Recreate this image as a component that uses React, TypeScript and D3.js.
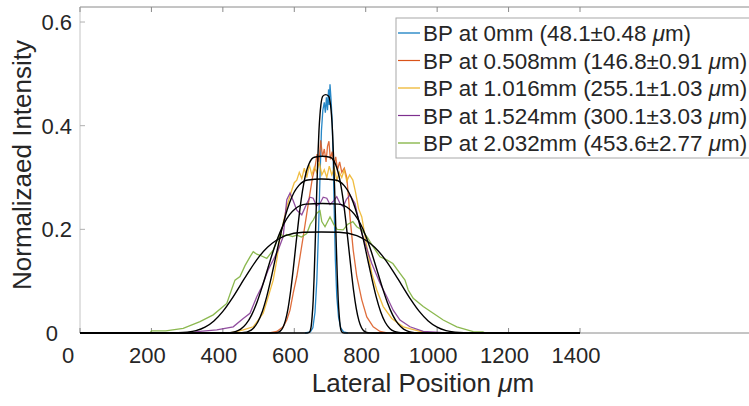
import React from "react";
import * as d3 from "d3";

type Pt = [number, number];

const xTicks = [0, 200, 400, 600, 800, 1000, 1200, 1400];
const yTicks = [0, 0.2, 0.4, 0.6];

const seriesNames = ["0mm", "0.508mm", "1.016mm", "1.524mm", "2.032mm"];
const seriesWidths = ["48.1±0.48 ", "146.8±0.91 ", "255.1±1.03 ", "300.1±3.03 ", "453.6±2.77 "];
const seriesColors = ["#0072BD", "#D95319", "#EDB120", "#7E2F8E", "#77AC30"];

const dataBlue: Pt[] = [
  [630, 0], [645, 0.002], [652, 0.01], [658, 0.04], [663, 0.1], [668, 0.2], [672, 0.3], [676, 0.39],
  [680, 0.43], [684, 0.445], [687, 0.425], [690, 0.455], [693, 0.43], [696, 0.47], [698, 0.44],
  [700, 0.48], [703, 0.45], [706, 0.41], [709, 0.33], [712, 0.23], [715, 0.14], [719, 0.07],
  [724, 0.03], [730, 0.01], [738, 0.002], [750, 0],
];
const dataOrange: Pt[] = [
  [530, 0], [551, 0.003], [569, 0.012], [579, 0.025], [588, 0.044], [597, 0.077], [607, 0.109],
  [616, 0.147], [625, 0.186], [635, 0.231], [644, 0.27], [651, 0.3], [658, 0.32], [664, 0.345],
  [669, 0.33], [674, 0.372], [679, 0.34], [684, 0.355], [689, 0.33], [693, 0.36], [697, 0.37],
  [701, 0.335], [706, 0.35], [711, 0.325], [716, 0.34], [721, 0.315], [727, 0.33], [733, 0.31],
  [740, 0.318], [747, 0.3], [752, 0.26], [756, 0.224], [765, 0.16], [775, 0.109], [789, 0.064],
  [803, 0.031], [821, 0.012], [840, 0.003], [860, 0],
];
const dataYellow: Pt[] = [
  [420, 0], [440, 0.003], [457, 0.006], [485, 0.012], [513, 0.038], [527, 0.07], [541, 0.102],
  [551, 0.141], [560, 0.186], [569, 0.212], [579, 0.244], [593, 0.276], [600, 0.29], [607, 0.295],
  [614, 0.31], [621, 0.298], [628, 0.318], [635, 0.3], [642, 0.325], [649, 0.305], [656, 0.32],
  [663, 0.31], [670, 0.33], [677, 0.305], [684, 0.315], [691, 0.3], [698, 0.322], [705, 0.305],
  [712, 0.318], [719, 0.295], [726, 0.31], [733, 0.3], [740, 0.315], [747, 0.293], [755, 0.305],
  [764, 0.295], [772, 0.27], [780, 0.24], [789, 0.224], [803, 0.167], [817, 0.115], [831, 0.083],
  [849, 0.051], [873, 0.028], [905, 0.012], [952, 0.003], [980, 0],
];
const dataPurple: Pt[] = [
  [300, 0], [336, 0.003], [383, 0.006], [429, 0.012], [457, 0.028], [476, 0.038], [495, 0.07],
  [509, 0.089], [527, 0.122], [541, 0.141], [555, 0.16], [569, 0.186], [575, 0.23], [579, 0.257],
  [588, 0.27], [597, 0.255], [607, 0.237], [621, 0.228], [635, 0.25], [644, 0.262], [653, 0.26],
  [662, 0.245], [672, 0.25], [681, 0.262], [691, 0.26], [700, 0.248], [710, 0.255], [719, 0.263],
  [728, 0.25], [737, 0.244], [746, 0.258], [756, 0.266], [770, 0.25], [784, 0.205], [798, 0.173],
  [817, 0.134], [840, 0.096], [859, 0.07], [877, 0.044], [896, 0.025], [924, 0.012], [961, 0.003],
  [1008, 0.001], [1020, 0],
];
const dataGreen: Pt[] = [
  [196, 0], [200, 0.004], [240, 0.004], [289, 0.009], [336, 0.022], [373, 0.035], [411, 0.057],
  [425, 0.085], [434, 0.102], [448, 0.109], [462, 0.13], [476, 0.147], [485, 0.157], [495, 0.152],
  [504, 0.15], [523, 0.144], [541, 0.16], [560, 0.192], [570, 0.186], [579, 0.19], [595, 0.186],
  [607, 0.189], [620, 0.185], [635, 0.192], [645, 0.21], [653, 0.218], [663, 0.231], [672, 0.236],
  [677, 0.215], [686, 0.205], [700, 0.224], [710, 0.21], [720, 0.2], [737, 0.199], [750, 0.21],
  [764, 0.215], [775, 0.205], [789, 0.199], [806, 0.183], [820, 0.167], [840, 0.147], [859, 0.141],
  [876, 0.134], [896, 0.115], [910, 0.102], [919, 0.083], [933, 0.067], [961, 0.051], [989, 0.038],
  [1017, 0.025], [1055, 0.012], [1101, 0.0025], [1128, 0.002], [1135, 0],
];

const fitBlue: Pt[] = [
  [0, 0], [634, 0], [639, 0.0003], [642, 0.0014], [645, 0.0049], [647.5, 0.0138], [650, 0.032],
  [653, 0.064], [655.6, 0.109], [658.3, 0.167], [661, 0.23], [663.7, 0.292], [666.4, 0.346],
  [669.1, 0.39], [671.8, 0.42], [674.5, 0.44], [680, 0.457], [688, 0.46], [696, 0.457],
  [701.5, 0.44], [704.2, 0.42], [706.9, 0.39], [709.6, 0.346], [712.3, 0.292], [715, 0.23],
  [717.7, 0.167], [720.4, 0.109], [723, 0.064], [726, 0.032], [728.5, 0.0138], [731, 0.0049],
  [734, 0.0014], [737, 0.0003], [742, 0], [1400, 0],
];
const fitOrange: Pt[] = [
  [0, 0], [531, 0], [545.7, 0.0002], [553, 0.001], [560.4, 0.0036], [567.8, 0.0102], [575.1, 0.0238],
  [582.5, 0.0471], [589.8, 0.081], [597.2, 0.1236], [604.5, 0.1705], [611.9, 0.2164], [619.2, 0.2567],
  [626.6, 0.2887], [633.9, 0.3117], [641.3, 0.3265], [656, 0.3391], [678, 0.341], [700, 0.3391],
  [714.8, 0.3265], [722.1, 0.3117], [729.5, 0.2887], [736.8, 0.2567], [744.2, 0.2164], [751.5, 0.1705],
  [758.9, 0.1236], [766.2, 0.081], [773.6, 0.0471], [780.9, 0.0238], [788.3, 0.0102], [795.6, 0.0036],
  [803, 0.001], [810.3, 0.0002], [825, 0], [1400, 0],
];
const fitYellow: Pt[] = [
  [0, 0], [421, 0], [446.5, 0.0002], [459.3, 0.0009], [472, 0.0032], [484.8, 0.0089], [497.5, 0.0207],
  [510.3, 0.041], [523, 0.0706], [535.8, 0.1077], [548.5, 0.1485], [561.3, 0.1885], [574, 0.2236],
  [586.8, 0.2515], [599.5, 0.2715], [612.3, 0.2844], [637.8, 0.2953], [676, 0.297], [714.3, 0.2953],
  [739.8, 0.2844], [752.5, 0.2715], [765.3, 0.2515], [778, 0.2236], [790.8, 0.1885], [803.5, 0.1485],
  [816.3, 0.1077], [829, 0.0706], [841.8, 0.041], [854.5, 0.0207], [867.3, 0.0089], [880, 0.0032],
  [892.8, 0.0009], [905.5, 0.0002], [931, 0], [1400, 0],
];
const fitPurple: Pt[] = [
  [0, 0], [374, 0], [404.4, 0.0002], [419.6, 0.0008], [434.8, 0.0027], [450, 0.0075], [465.2, 0.0175],
  [480.4, 0.0346], [495.6, 0.0594], [510.8, 0.0906], [526, 0.125], [541.2, 0.1587], [556.4, 0.1882],
  [571.6, 0.2117], [586.8, 0.2285], [602, 0.2394], [632.4, 0.2486], [678, 0.25], [723.6, 0.2486],
  [754, 0.2394], [769.2, 0.2285], [784.4, 0.2117], [799.6, 0.1882], [814.8, 0.1587], [830, 0.125],
  [845.2, 0.0906], [860.4, 0.0594], [875.6, 0.0346], [890.8, 0.0175], [906, 0.0075], [921.2, 0.0027],
  [936.4, 0.0008], [951.6, 0.0002], [982, 0], [1400, 0],
];
const fitGreen: Pt[] = [
  [0, 0], [225, 0], [275, 0.0004], [300, 0.0015], [325, 0.0045], [350, 0.0112], [375, 0.0232],
  [400, 0.0417], [425, 0.0659], [450, 0.0935], [475, 0.121], [500, 0.146], [525, 0.1655], [550, 0.179],
  [575, 0.188], [625, 0.1944], [675, 0.195], [725, 0.1944], [775, 0.188], [800, 0.179], [825, 0.1655],
  [850, 0.146], [875, 0.121], [900, 0.0935], [925, 0.0659], [950, 0.0417], [975, 0.0232],
  [1000, 0.0112], [1025, 0.0045], [1050, 0.0015], [1075, 0.0004], [1125, 0], [1400, 0],
];

const dataSeries = [dataBlue, dataOrange, dataYellow, dataPurple, dataGreen];
const fitSeries = [fitBlue, fitOrange, fitYellow, fitPurple, fitGreen];

const W = 749;
const H = 406;
const FONT = "'Liberation Sans', Arial, Helvetica, sans-serif";
const TEXT = "#262626";

export default function App() {
  const x = d3.scaleLinear().domain([0, 1400]).range([80, 580]);
  const y = d3.scaleLinear().domain([0, 0.629]).range([333, 7]);
  const dataLine = d3.line<Pt>().x((d) => x(d[0])).y((d) => y(d[1]));
  const fitLine = d3
    .line<Pt>()
    .x((d) => x(d[0]))
    .y((d) => y(d[1]))
    .curve(d3.curveMonotoneX);

  const top = y.range()[1];
  const bottom = y.range()[0];
  const left = x.range()[0];

  const legX = 396;
  const legY = 18;
  const rowH = 27.5;

  return (
    <svg
      width={W}
      height={H}
      style={{ position: "absolute", left: 0, top: 0, background: "#fff" }}
      fontFamily={FONT}
    >
      <rect x={0} y={0} width={W} height={H} fill="#fff" />
      {/* axes box */}
      <line x1={left} x2={W} y1={top} y2={top} stroke="#8a8a8a" strokeWidth={1} />
      <line x1={left} x2={W} y1={bottom} y2={bottom} stroke="#8a8a8a" strokeWidth={1} />
      <line x1={left} x2={left} y1={top} y2={bottom} stroke="#c4c4c4" strokeWidth={1} />
      {xTicks.map((t) => (
        <g key={"xt" + t}>
          <line x1={x(t)} x2={x(t)} y1={top} y2={top + 5} stroke="#8a8a8a" />
          <line x1={x(t)} x2={x(t)} y1={bottom} y2={bottom - 5} stroke="#8a8a8a" />
          <text
            x={t === 0 ? x(t) - 12 : x(t) - 4}
            y={bottom + 30}
            textAnchor="middle"
            fontSize={22}
            fill={TEXT}
          >
            {t}
          </text>
        </g>
      ))}
      {yTicks.map((t) => (
        <g key={"yt" + t}>
          <line x1={left} x2={left + 5} y1={y(t)} y2={y(t)} stroke="#b0b0b0" />
          <text
            x={t === 0 ? 58 : 72}
            y={y(t) + 8}
            textAnchor="end"
            fontSize={22}
            fill={TEXT}
          >
            {t === 0 ? "0" : t.toFixed(1)}
          </text>
        </g>
      ))}
      <text x={423} y={392} textAnchor="middle" fontSize={26} fill={TEXT}>
        Lateral Position <tspan fontStyle="italic">μ</tspan>m
      </text>
      <text
        transform="translate(31,165) rotate(-90)"
        textAnchor="middle"
        fontSize={26}
        fill={TEXT}
      >
        Normalizaed Intensity
      </text>

      {/* data */}
      {dataSeries.map((s, i) => (
        <path
          key={"d" + i}
          d={dataLine(s) || ""}
          fill="none"
          stroke={seriesColors[i]}
          strokeWidth={1.3}
          strokeOpacity={0.85}
        />
      ))}
      {fitSeries.map((s, i) => (
        <path key={"f" + i} d={fitLine(s) || ""} fill="none" stroke="#000" strokeWidth={1.4} />
      ))}

      {/* legend */}
      <rect x={legX} y={legY} width={W - legX + 10} height={140} fill="#fff" stroke="#a8a8a8" strokeWidth={1} />
      {seriesNames.map((n, i) => {
        const cy = legY + 15 + i * rowH;
        return (
          <g key={"lg" + i}>
            <line x1={legX + 2} x2={legX + 24} y1={cy} y2={cy} stroke={seriesColors[i]} strokeWidth={1.2} />
            <text x={legX + 27} y={cy + 8} fontSize={22.4} fill={TEXT}>
              {"BP at " + n + " (" + seriesWidths[i]}
              <tspan fontStyle="italic">μ</tspan>
              {"m)"}
            </text>
          </g>
        );
      })}
    </svg>
  );
}
